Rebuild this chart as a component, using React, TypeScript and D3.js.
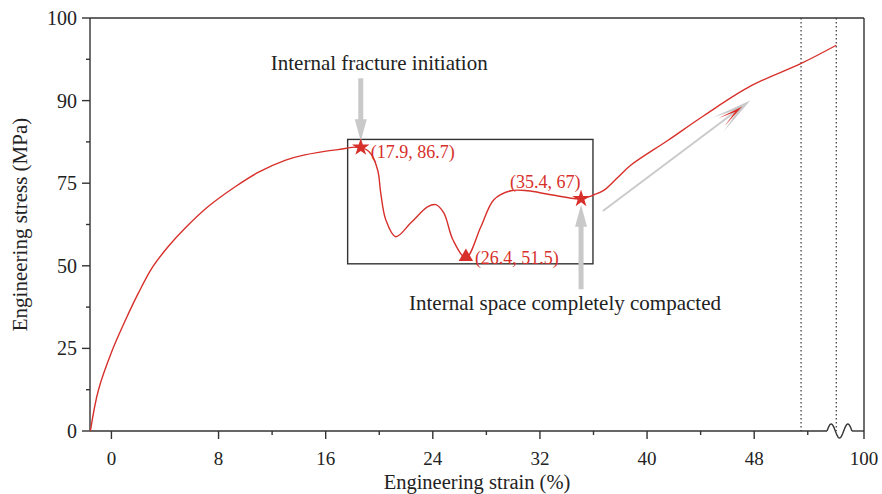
import React from "react";
import * as d3 from "d3";

// curve (y in axis units of the broken stress axis)
const strain = [-1.57, -0.97, 0.07, 1.05, 2.02, 3.07, 4.26, 5.53, 7.25, 9.27, 10.99, 13.01, 14.36, 16.9, 18.62, 19.36, 19.89, 20.11, 20.49, 21.23, 22.36, 23.63, 24.22, 24.82, 25.5, 26.47, 27.59, 28.56, 29.83, 31.1, 32.82, 35.07, 36.04, 36.79, 37.83, 38.8, 41.57, 44.26, 47.78, 51.51, 54.13];
const stress = [0, 12.4, 24.5, 33.6, 41.8, 49.6, 55.9, 61.5, 68.0, 74.0, 77.0, 79.2, 80.1, 81.1, 81.5, 80.4, 77.3, 72.1, 63.9, 58.8, 63.0, 67.9, 68.5, 66.0, 57.9, 52.4, 61.8, 70.0, 72.7, 72.7, 71.5, 70.3, 71.5, 72.9, 76.1, 78.3, 82.8, 87.3, 91.8, 94.5, 96.7];

const xTicks = [0, 8, 16, 24, 32, 40, 48];
const xMinor = [12, 20, 28, 36, 44, 52];
const xEnd = 56.2;
const xEndLabel = "100";
const yTicks = [0, 25, 50, 75, 90, 100];
const yMinor = [12.5, 37.5, 62.5, 82.5, 95];
const dottedX = [51.5, 54.13];

const markers = [
  { x: 18.62, y: 81.5, shape: "star", label: "(17.9, 86.7)" },
  { x: 26.47, y: 52.4, shape: "triangle", label: "(26.4, 51.5)" },
  { x: 35.07, y: 70.3, shape: "star", label: "(35.4, 67)" },
];

const RED = "#d7302b";
const GRAY = "#c9c9c9";
const AXIS = "#333";
const FONT = "'Liberation Serif', 'Times New Roman', serif";

const W = 882;
const H = 494;
const left = 90, right = 864, top = 18, bottom = 431;

export default function App() {
  const x = d3.scaleLinear().domain([-1.6, xEnd]).range([left, right]);
  const step = (bottom - top) / (yTicks.length - 1);
  const y = d3.scaleLinear().domain(yTicks).range(yTicks.map((_, i) => bottom - i * step));

  const pts = strain.map((s, i) => [x(s), y(stress[i])] as [number, number]);
  const line = d3.line().curve(d3.curveCatmullRom.alpha(0.5))(pts) || "";

  const star = d3.symbol().type(d3.symbolStar).size(95)() || "";
  const tri = d3.symbol().type(d3.symbolTriangle).size(90)() || "";

  // break squiggle on x axis
  const bx0 = 827, bx1 = 852;
  const wave = d3.range(0, 49).map((i) => {
    const t = i / 48;
    return [bx0 + t * (bx1 - bx0), bottom - 7 * Math.sin(t * Math.PI * 3)] as [number, number];
  });
  const wavePath = d3.line()(wave) || "";

  // annotation arrows
  const a1x = x(18.62), a1top = y(92.7), a1tip = y(82.6);
  const a2x = x(35.07), a2bot = y(42.9), a2tip = y(68.5);
  const dx0 = x(36.7), dy0 = y(66.6), dx1 = x(47.7), dy1 = y(90.0);
  const ang = Math.atan2(dy1 - dy0, dx1 - dx0);
  const head = (off: number, len: number, half: number, back: number) => {
    const c = Math.cos(ang), s = Math.sin(ang);
    const p = (u: number, v: number) => [dx1 + (u - off) * c - v * s, dy1 + (u - off) * s + v * c];
    const a = p(0, 0), b = p(-len, half), m = p(-len + back, 0), d = p(-len, -half);
    return `M${a}L${b}L${m}L${d}Z`;
  };

  return (
    <svg width={W} height={H} style={{ position: "absolute", left: 0, top: 0 }} fontFamily={FONT}>
      <rect width={W} height={H} fill="#fff" />
      {/* dotted verticals */}
      {dottedX.map((d) => (
        <line key={d} x1={x(d)} x2={x(d)} y1={top} y2={bottom} stroke="#444" strokeWidth={1.3} strokeDasharray="1.6,2.4" />
      ))}
      {/* frame */}
      <line x1={left} x2={right} y1={top} y2={top} stroke={AXIS} strokeWidth={1.4} />
      <line x1={right} x2={right} y1={top} y2={bottom + 8} stroke={AXIS} strokeWidth={1.4} />
      <line x1={left} x2={left} y1={top} y2={bottom} stroke={AXIS} strokeWidth={1.4} />
      <line x1={left} x2={bx0} y1={bottom} y2={bottom} stroke={AXIS} strokeWidth={1.4} />
      <line x1={bx1} x2={right} y1={bottom} y2={bottom} stroke={AXIS} strokeWidth={1.4} />
      <path d={wavePath} fill="none" stroke={AXIS} strokeWidth={1.4} />

      {/* y ticks */}
      {yTicks.map((t) => (
        <g key={t}>
          <line x1={left - 8} x2={left} y1={y(t)} y2={y(t)} stroke={AXIS} strokeWidth={1.4} />
          <text x={left - 13} y={y(t)} dy="0.35em" textAnchor="end" fontSize={20} fill="#222">{t}</text>
        </g>
      ))}
      {yMinor.map((t) => (
        <line key={t} x1={left - 4} x2={left} y1={y(t)} y2={y(t)} stroke={AXIS} strokeWidth={1.4} />
      ))}
      {/* x ticks */}
      {xTicks.map((t) => (
        <g key={t}>
          <line x1={x(t)} x2={x(t)} y1={bottom} y2={bottom + 8} stroke={AXIS} strokeWidth={1.4} />
          <text x={x(t)} y={465} textAnchor="middle" fontSize={19} fill="#222">{t}</text>
        </g>
      ))}
      {xMinor.map((t) => (
        <line key={t} x1={x(t)} x2={x(t)} y1={bottom} y2={bottom + 4} stroke={AXIS} strokeWidth={1.4} />
      ))}
      <text x={x(xEnd)} y={465} textAnchor="middle" fontSize={19} fill="#222">{xEndLabel}</text>

      {/* axis titles */}
      <text x={(left + right) / 2} y={489} textAnchor="middle" fontSize={20.5} fill="#222">Engineering strain (%)</text>
      <text transform={`translate(27,${(top + bottom) / 2}) rotate(-90)`} textAnchor="middle" fontSize={21} fill="#222">Engineering stress (MPa)</text>

      {/* zoom box */}
      <rect x={x(17.64)} y={y(82.95)} width={x(35.96) - x(17.64)} height={y(50.6) - y(82.95)} fill="none" stroke="#333" strokeWidth={1.4} />

      {/* gray arrows */}
      <rect x={a1x - 2.5} y={a1top} width={5} height={a1tip - a1top - 20} fill={GRAY} />
      <path d={`M${a1x - 6},${a1tip - 22}L${a1x + 6},${a1tip - 22}L${a1x},${a1tip}Z`} fill={GRAY} />
      <rect x={a2x - 2.5} y={a2tip + 20} width={5} height={a2bot - a2tip - 20} fill={GRAY} />
      <path d={`M${a2x - 6},${a2tip + 22}L${a2x + 6},${a2tip + 22}L${a2x},${a2tip}Z`} fill={GRAY} />
      <line x1={dx0} y1={dy0} x2={dx1 - 20 * Math.cos(ang)} y2={dy1 - 20 * Math.sin(ang)} stroke={GRAY} strokeWidth={1.8} />
      <path d={head(0, 40, 9, 26)} fill={GRAY} />
      <path d={head(10, 26, 5, 17)} fill={RED} />

      {/* curve */}
      <path d={line} fill="none" stroke={RED} strokeWidth={1.4} />

      {/* markers */}
      {markers.map((m) => (
        <path key={m.label} d={m.shape === "star" ? star : tri} transform={`translate(${x(m.x)},${y(m.y) + (m.shape === "star" ? 0 : -1)})`} fill={RED} />
      ))}
      <text x={x(18.62) + 10} y={y(81.5) + 11} fontSize={18} fill={RED}>{markers[0].label}</text>
      <text x={x(26.47) + 9} y={y(52.4) + 6} fontSize={18} fill={RED}>{markers[1].label}</text>
      <text x={x(35.07) - 71} y={y(70.3) - 11} fontSize={18} fill={RED}>{markers[2].label}</text>

      {/* annotations */}
      <text x={x(18.62) - 90} y={70} fontSize={21} fill="#222">Internal fracture initiation</text>
      <text x={x(35.07) - 172} y={310} fontSize={21} fill="#222">Internal space completely compacted</text>
    </svg>
  );
}
